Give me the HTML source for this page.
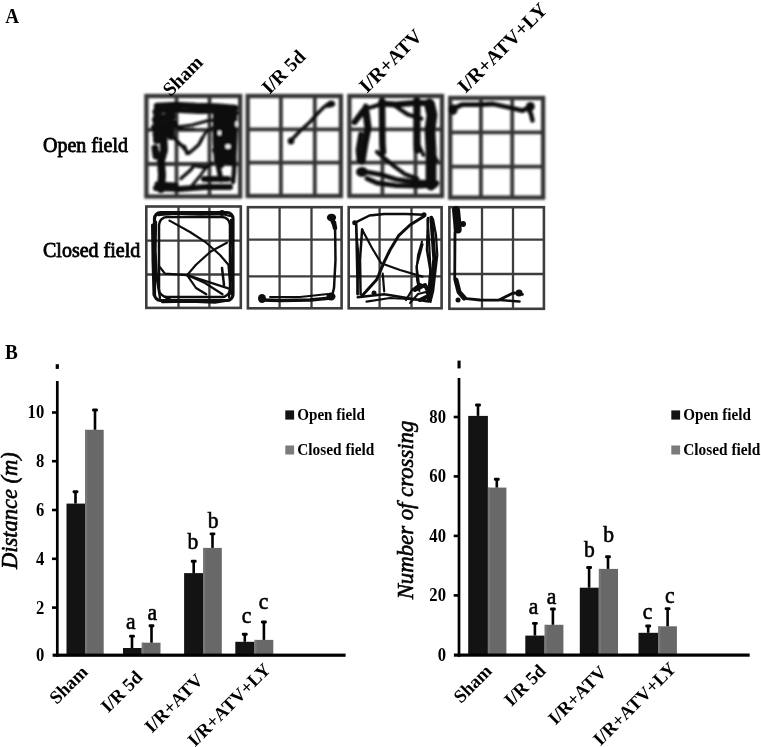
<!DOCTYPE html>
<html><head><meta charset="utf-8"><title>Figure</title>
<style>html,body{margin:0;padding:0;background:#fff;overflow:hidden;}svg{display:block;}</style>
</head><body>
<svg width="761" height="747" viewBox="0 0 761 747">
<rect width="761" height="747" fill="#fff"/>
<defs><filter id="b1" x="-5%" y="-5%" width="110%" height="110%"><feGaussianBlur stdDeviation="0.9"/></filter><filter id="b2" x="-5%" y="-5%" width="110%" height="110%"><feGaussianBlur stdDeviation="0.6"/></filter></defs>
<g filter="url(#b1)">
<rect x="146.4" y="96" width="93.8" height="100.5" fill="none" stroke="#363636" stroke-width="4.3"/>
<line x1="176.5" y1="96" x2="176.5" y2="196.5" stroke="#363636" stroke-width="3.8"/>
<line x1="209.5" y1="96" x2="209.5" y2="196.5" stroke="#363636" stroke-width="3.8"/>
<line x1="146.4" y1="129.8" x2="240.2" y2="129.8" stroke="#363636" stroke-width="3.8"/>
<line x1="146.4" y1="164" x2="240.2" y2="164" stroke="#363636" stroke-width="3.8"/>
<rect x="247.7" y="96" width="93.2" height="100.0" fill="none" stroke="#363636" stroke-width="4.3"/>
<line x1="280.9" y1="96" x2="280.9" y2="196" stroke="#363636" stroke-width="3.8"/>
<line x1="314.8" y1="96" x2="314.8" y2="196" stroke="#363636" stroke-width="3.8"/>
<line x1="247.7" y1="129.4" x2="340.9" y2="129.4" stroke="#363636" stroke-width="3.8"/>
<line x1="247.7" y1="162.6" x2="340.9" y2="162.6" stroke="#363636" stroke-width="3.8"/>
<rect x="349.4" y="96" width="92.6" height="100.0" fill="none" stroke="#363636" stroke-width="4.3"/>
<line x1="382.4" y1="96" x2="382.4" y2="196" stroke="#363636" stroke-width="3.8"/>
<line x1="415.5" y1="96" x2="415.5" y2="196" stroke="#363636" stroke-width="3.8"/>
<line x1="349.4" y1="129.4" x2="442" y2="129.4" stroke="#363636" stroke-width="3.8"/>
<line x1="349.4" y1="162.6" x2="442" y2="162.6" stroke="#363636" stroke-width="3.8"/>
<rect x="450.2" y="98" width="92.9" height="99.6" fill="none" stroke="#363636" stroke-width="4.3"/>
<line x1="480.9" y1="98" x2="480.9" y2="197.6" stroke="#363636" stroke-width="3.8"/>
<line x1="512.2" y1="98" x2="512.2" y2="197.6" stroke="#363636" stroke-width="3.8"/>
<line x1="450.2" y1="132.4" x2="543.1" y2="132.4" stroke="#363636" stroke-width="3.8"/>
<line x1="450.2" y1="166.6" x2="543.1" y2="166.6" stroke="#363636" stroke-width="3.8"/>
<path d="M157,106 L176,105 L196,106 L216,106.5 L235,108" fill="none" stroke="#0d0d0d" stroke-width="6.50" stroke-linecap="round" stroke-linejoin="round"/>
<path d="M162,110 L180,110.5 L200,111.5 L220,111 L236,113" fill="none" stroke="#0d0d0d" stroke-width="5.00" stroke-linecap="round" stroke-linejoin="round"/>
<path d="M156,112 L170,108" fill="none" stroke="#0d0d0d" stroke-width="7.00" stroke-linecap="round" stroke-linejoin="round"/>
<path d="M156,120 L172,116" fill="none" stroke="#0d0d0d" stroke-width="8.00" stroke-linecap="round" stroke-linejoin="round"/>
<path d="M155,128 L174,124" fill="none" stroke="#0d0d0d" stroke-width="8.00" stroke-linecap="round" stroke-linejoin="round"/>
<path d="M156,135 L170,132" fill="none" stroke="#0d0d0d" stroke-width="7.00" stroke-linecap="round" stroke-linejoin="round"/>
<path d="M157.5,110 L157,140" fill="none" stroke="#0d0d0d" stroke-width="8.00" stroke-linecap="round" stroke-linejoin="round"/>
<path d="M169,108 L171,136" fill="none" stroke="#0d0d0d" stroke-width="8.00" stroke-linecap="round" stroke-linejoin="round"/>
<path d="M163,130 L164,150 L161,161 L162,175 L161,189" fill="none" stroke="#0d0d0d" stroke-width="8.00" stroke-linecap="round" stroke-linejoin="round"/>
<path d="M155,148 L156,156" fill="none" stroke="#0d0d0d" stroke-width="7.00" stroke-linecap="round" stroke-linejoin="round"/>
<path d="M177,127 L192,125 L208.7,120.5 L222,119.4" fill="none" stroke="#0d0d0d" stroke-width="3.00" stroke-linecap="round" stroke-linejoin="round"/>
<path d="M177,129 L194,129" fill="none" stroke="#0d0d0d" stroke-width="2.50" stroke-linecap="round" stroke-linejoin="round"/>
<polygon points="213,112 237,111 237.5,135 236.5,160 234,166 214,163 212.5,140" fill="#0d0d0d"/>
<ellipse cx="228" cy="146.5" rx="2.6" ry="2.2" fill="#fff"/>
<ellipse cx="236.6" cy="124" rx="1.3" ry="2.8" fill="#fff"/>
<ellipse cx="219.5" cy="133" rx="1.6" ry="2.4" fill="#fff"/>
<path d="M217,160 L219,170 L221,180" fill="none" stroke="#0d0d0d" stroke-width="5.00" stroke-linecap="round" stroke-linejoin="round"/>
<path d="M234.5,160 L234,172 L233,182" fill="none" stroke="#0d0d0d" stroke-width="4.50" stroke-linecap="round" stroke-linejoin="round"/>
<path d="M214,150 L222,166" fill="none" stroke="#0d0d0d" stroke-width="4.00" stroke-linecap="round" stroke-linejoin="round"/>
<path d="M156,188 L180,189 L205,187 L230,187" fill="none" stroke="#0d0d0d" stroke-width="6.00" stroke-linecap="round" stroke-linejoin="round"/>
<path d="M204,179 L228,179" fill="none" stroke="#0d0d0d" stroke-width="6.00" stroke-linecap="round" stroke-linejoin="round"/>
<path d="M157,184 L176,185" fill="none" stroke="#0d0d0d" stroke-width="5.00" stroke-linecap="round" stroke-linejoin="round"/>
<path d="M181,178.5 L190.6,170 L194,165.5 L206,167.6 L212,163" fill="none" stroke="#0d0d0d" stroke-width="3.50" stroke-linecap="round" stroke-linejoin="round"/>
<path d="M192,185.5 L200,176 L206,167.6" fill="none" stroke="#0d0d0d" stroke-width="3.00" stroke-linecap="round" stroke-linejoin="round"/>
<path d="M170,134 L176,140 L182,146 L188.6,153.3 L194,149 L198.9,144.5 L202,138.6" fill="none" stroke="#0d0d0d" stroke-width="3.50" stroke-linecap="round" stroke-linejoin="round"/>
<path d="M178,143.5 L185,146.7 L186.7,153.6" fill="none" stroke="#0d0d0d" stroke-width="3.00" stroke-linecap="round" stroke-linejoin="round"/>
<path d="M202,138.6 L206,132 L212,128" fill="none" stroke="#0d0d0d" stroke-width="3.00" stroke-linecap="round" stroke-linejoin="round"/>
<path d="M290.5,141 L300,131 L310,122 L318,113 L324,107 L329,104" fill="none" stroke="#0d0d0d" stroke-width="3.60" stroke-linecap="round" stroke-linejoin="round"/>
<ellipse cx="291" cy="141" rx="3.3" ry="3.6" fill="#0d0d0d"/>
<polygon points="325,104 330,100.5 334,101 335.5,104.5 333,107 327,108" fill="#0d0d0d"/>
<path d="M354.7,122 L363.4,110.7 L366,107.5" fill="none" stroke="#0d0d0d" stroke-width="6.00" stroke-linecap="round" stroke-linejoin="round"/>
<ellipse cx="365.7" cy="107" rx="2.6" ry="3.4" fill="#0d0d0d"/>
<path d="M366,108.5 L372,107 L380,104.5" fill="none" stroke="#0d0d0d" stroke-width="4.20" stroke-linecap="round" stroke-linejoin="round"/>
<path d="M380.8,103.5 L396,104.5 L414.5,103 L426.8,103 L429.5,104.5" fill="none" stroke="#0d0d0d" stroke-width="6.00" stroke-linecap="round" stroke-linejoin="round"/>
<path d="M394,105 L400.8,109.7 L407.7,114.5 L414.5,116.6 L421.3,118.6" fill="none" stroke="#0d0d0d" stroke-width="4.20" stroke-linecap="round" stroke-linejoin="round"/>
<path d="M366,112 L368,127.5 L364.7,144 L362,161" fill="none" stroke="#0d0d0d" stroke-width="7.20" stroke-linecap="round" stroke-linejoin="round"/>
<path d="M360.7,134 L358,150 L359,161" fill="none" stroke="#0d0d0d" stroke-width="4.80" stroke-linecap="round" stroke-linejoin="round"/>
<ellipse cx="362" cy="172" rx="6" ry="5" fill="#0d0d0d"/>
<path d="M382,101 L382.4,144 L383,152" fill="none" stroke="#0d0d0d" stroke-width="6.60" stroke-linecap="round" stroke-linejoin="round"/>
<path d="M377,152 L383.3,157.5 L396,167.6 L405.6,174.6 L417.3,178.5" fill="none" stroke="#0d0d0d" stroke-width="4.20" stroke-linecap="round" stroke-linejoin="round"/>
<path d="M368.5,172.3 L381,174.6 L396,179.3 L415,182 L437,183" fill="none" stroke="#0d0d0d" stroke-width="4.80" stroke-linecap="round" stroke-linejoin="round"/>
<path d="M367,178.5 L377,183 L396,185.5 L420,186 L436,185" fill="none" stroke="#0d0d0d" stroke-width="4.80" stroke-linecap="round" stroke-linejoin="round"/>
<path d="M417,101 L417,144 L417.3,150" fill="none" stroke="#0d0d0d" stroke-width="7.20" stroke-linecap="round" stroke-linejoin="round"/>
<path d="M417.3,142 L423.5,155.2" fill="none" stroke="#0d0d0d" stroke-width="3.60" stroke-linecap="round" stroke-linejoin="round"/>
<path d="M429.5,104 L432,115 L430,130 L431,150 L431,170 L431,185" fill="none" stroke="#0d0d0d" stroke-width="10.80" stroke-linecap="round" stroke-linejoin="round"/>
<path d="M428,142 L437,161" fill="none" stroke="#0d0d0d" stroke-width="3.60" stroke-linecap="round" stroke-linejoin="round"/>
<path d="M452,109 L462,104.7 L479.8,104.7 L493,104 L509.2,107.5 L522.5,110.6 L530,107" fill="none" stroke="#0d0d0d" stroke-width="4.80" stroke-linecap="round" stroke-linejoin="round"/>
<path d="M528,108 L531,114 L532.5,120.5" fill="none" stroke="#0d0d0d" stroke-width="4.50" stroke-linecap="round" stroke-linejoin="round"/>
<ellipse cx="453" cy="109.5" rx="4.6" ry="5.2" fill="#0d0d0d"/>
<ellipse cx="530.4" cy="106.5" rx="4.4" ry="4.6" fill="#0d0d0d"/>
</g>
<g filter="url(#b2)">
<rect x="146.3" y="206.5" width="94.5" height="101.4" fill="none" stroke="#3c3c3c" stroke-width="2.6"/>
<line x1="178.5" y1="206.5" x2="178.5" y2="307.9" stroke="#3c3c3c" stroke-width="2.3"/>
<line x1="209.4" y1="206.5" x2="209.4" y2="307.9" stroke="#3c3c3c" stroke-width="2.3"/>
<line x1="146.3" y1="240.6" x2="240.8" y2="240.6" stroke="#3c3c3c" stroke-width="2.3"/>
<line x1="146.3" y1="274.5" x2="240.8" y2="274.5" stroke="#3c3c3c" stroke-width="2.3"/>
<rect x="247.9" y="207.2" width="93.7" height="101.1" fill="none" stroke="#3c3c3c" stroke-width="2.6"/>
<line x1="279.6" y1="207.2" x2="279.6" y2="308.3" stroke="#3c3c3c" stroke-width="2.3"/>
<line x1="311.5" y1="207.2" x2="311.5" y2="308.3" stroke="#3c3c3c" stroke-width="2.3"/>
<line x1="247.9" y1="239.6" x2="341.6" y2="239.6" stroke="#3c3c3c" stroke-width="2.3"/>
<line x1="247.9" y1="276.4" x2="341.6" y2="276.4" stroke="#3c3c3c" stroke-width="2.3"/>
<rect x="348.7" y="207.2" width="92.9" height="101.1" fill="none" stroke="#3c3c3c" stroke-width="2.6"/>
<line x1="379.6" y1="207.2" x2="379.6" y2="308.3" stroke="#3c3c3c" stroke-width="2.3"/>
<line x1="411.5" y1="207.2" x2="411.5" y2="308.3" stroke="#3c3c3c" stroke-width="2.3"/>
<line x1="348.7" y1="239.6" x2="441.6" y2="239.6" stroke="#3c3c3c" stroke-width="2.3"/>
<line x1="348.7" y1="276.4" x2="441.6" y2="276.4" stroke="#3c3c3c" stroke-width="2.3"/>
<rect x="449.4" y="207.2" width="94.5" height="101.6" fill="none" stroke="#3c3c3c" stroke-width="2.6"/>
<line x1="482.0" y1="207.2" x2="482.0" y2="308.8" stroke="#3c3c3c" stroke-width="2.3"/>
<line x1="513.0" y1="207.2" x2="513.0" y2="308.8" stroke="#3c3c3c" stroke-width="2.3"/>
<line x1="449.4" y1="239.6" x2="543.9" y2="239.6" stroke="#3c3c3c" stroke-width="2.3"/>
<line x1="449.4" y1="274.0" x2="543.9" y2="274.0" stroke="#3c3c3c" stroke-width="2.3"/>
<rect x="154.5" y="212.5" width="78.5" height="88.0" rx="6" fill="none" stroke="#0d0d0d" stroke-width="3.2"/>
<rect x="159" y="217" width="71" height="80" rx="8" fill="none" stroke="#0d0d0d" stroke-width="2.5"/>
<path d="M152.5,225 L153,260 L154,295" fill="none" stroke="#0d0d0d" stroke-width="3.00" stroke-linecap="round" stroke-linejoin="round"/>
<path d="M158,215 L175,213.5 L200,214.5 L222,214 L230,216" fill="none" stroke="#0d0d0d" stroke-width="2.30" stroke-linecap="round" stroke-linejoin="round"/>
<path d="M156,222 L155.5,250 L157,280 L160,298" fill="none" stroke="#0d0d0d" stroke-width="2.30" stroke-linecap="round" stroke-linejoin="round"/>
<path d="M231,220 L232.5,250 L231,280 L229,297" fill="none" stroke="#0d0d0d" stroke-width="2.30" stroke-linecap="round" stroke-linejoin="round"/>
<path d="M162,302 L190,301.5 L215,302.5 L230,300" fill="none" stroke="#0d0d0d" stroke-width="2.30" stroke-linecap="round" stroke-linejoin="round"/>
<path d="M169.5,220.6 L190,232 L206.3,242.7 L220,255 L228.4,264.8 L231.3,294.2" fill="none" stroke="#0d0d0d" stroke-width="2.20" stroke-linecap="round" stroke-linejoin="round"/>
<path d="M226.9,242.7 L210.7,251.5 L196,264.8 L187.1,275.1" fill="none" stroke="#0d0d0d" stroke-width="2.20" stroke-linecap="round" stroke-linejoin="round"/>
<path d="M159.1,266.3 L165,273.6 L187.1,275.1" fill="none" stroke="#0d0d0d" stroke-width="2.20" stroke-linecap="round" stroke-linejoin="round"/>
<path d="M187.1,275.1 L228.4,288.4" fill="none" stroke="#0d0d0d" stroke-width="2.20" stroke-linecap="round" stroke-linejoin="round"/>
<path d="M187.1,275.1 L205,283 L222.5,294.2" fill="none" stroke="#0d0d0d" stroke-width="2.20" stroke-linecap="round" stroke-linejoin="round"/>
<path d="M187.1,275.1 L196,288 L206.3,294.2" fill="none" stroke="#0d0d0d" stroke-width="2.20" stroke-linecap="round" stroke-linejoin="round"/>
<path d="M222,268 L224,285" fill="none" stroke="#0d0d0d" stroke-width="2.50" stroke-linecap="round" stroke-linejoin="round"/>
<ellipse cx="222" cy="213" rx="3" ry="3" fill="#0d0d0d"/>
<ellipse cx="168" cy="300" rx="3" ry="3" fill="#0d0d0d"/>
<ellipse cx="331.5" cy="217.5" rx="4.6" ry="3.8" fill="#0d0d0d"/>
<path d="M331,217 L334,224 L335,228" fill="none" stroke="#0d0d0d" stroke-width="4.50" stroke-linecap="round" stroke-linejoin="round"/>
<path d="M335,222 L335.5,260 L334,288 L332,296" fill="none" stroke="#0d0d0d" stroke-width="2.50" stroke-linecap="round" stroke-linejoin="round"/>
<ellipse cx="331" cy="296.5" rx="4.5" ry="4" fill="#0d0d0d"/>
<path d="M331,298 L310,300 L280,300.5 L262,300" fill="none" stroke="#0d0d0d" stroke-width="3.50" stroke-linecap="round" stroke-linejoin="round"/>
<path d="M328,294 L300,297 L270,297" fill="none" stroke="#0d0d0d" stroke-width="2.00" stroke-linecap="round" stroke-linejoin="round"/>
<ellipse cx="262" cy="298.5" rx="4" ry="4.5" fill="#0d0d0d"/>
<path d="M354.7,222.8 L369.5,215.5 L384.2,214 L406.3,214 L424,214.7" fill="none" stroke="#0d0d0d" stroke-width="2.50" stroke-linecap="round" stroke-linejoin="round"/>
<path d="M424,216.2 L410,225 L398.9,235.3 L390,250 L384.2,261.9 L376.8,279.5 L362.1,295.7" fill="none" stroke="#0d0d0d" stroke-width="3.00" stroke-linecap="round" stroke-linejoin="round"/>
<path d="M356.2,223.6 L357,260 L357.7,294.3" fill="none" stroke="#0d0d0d" stroke-width="2.50" stroke-linecap="round" stroke-linejoin="round"/>
<path d="M362.1,229.5 L360,260 L360.6,294.3" fill="none" stroke="#0d0d0d" stroke-width="2.50" stroke-linecap="round" stroke-linejoin="round"/>
<path d="M362.1,229.5 L372,248 L381.2,263.3 L400,270 L422.5,276.6" fill="none" stroke="#0d0d0d" stroke-width="2.20" stroke-linecap="round" stroke-linejoin="round"/>
<path d="M431.3,217.7 L434.3,258.9 L429.8,300.1" fill="none" stroke="#0d0d0d" stroke-width="4.00" stroke-linecap="round" stroke-linejoin="round"/>
<path d="M428,218 L427,250 L432,280 L428,298" fill="none" stroke="#0d0d0d" stroke-width="2.50" stroke-linecap="round" stroke-linejoin="round"/>
<path d="M422.5,244.2 L416.6,266.3 L419.5,288.4" fill="none" stroke="#0d0d0d" stroke-width="2.20" stroke-linecap="round" stroke-linejoin="round"/>
<path d="M357.7,297.2 L384.2,294.3 L428.4,301.6" fill="none" stroke="#0d0d0d" stroke-width="2.50" stroke-linecap="round" stroke-linejoin="round"/>
<path d="M366.5,301.6 L390,298 L425,300" fill="none" stroke="#0d0d0d" stroke-width="2.20" stroke-linecap="round" stroke-linejoin="round"/>
<path d="M382.7,273.6 L384.2,291.3" fill="none" stroke="#0d0d0d" stroke-width="2.20" stroke-linecap="round" stroke-linejoin="round"/>
<path d="M415,290 L425,285 L430,295 L420,300" fill="none" stroke="#0d0d0d" stroke-width="4.00" stroke-linecap="round" stroke-linejoin="round"/>
<path d="M433,219 L436,235 L437.3,255 L435,275 L433.2,291 L430.4,302" fill="none" stroke="#0d0d0d" stroke-width="2.20" stroke-linecap="round" stroke-linejoin="round"/>
<path d="M427.6,219.3 L429,240 L430.4,269 L429,285 L427.6,299.3" fill="none" stroke="#0d0d0d" stroke-width="2.20" stroke-linecap="round" stroke-linejoin="round"/>
<path d="M422,241.4 L418,255 L416.6,269 L417,280 L419.4,291" fill="none" stroke="#0d0d0d" stroke-width="2.00" stroke-linecap="round" stroke-linejoin="round"/>
<path d="M406,300 L412,290 L420,284 L428,288 L432,296" fill="none" stroke="#0d0d0d" stroke-width="2.20" stroke-linecap="round" stroke-linejoin="round"/>
<path d="M410,303 L418,294 L426,292 L431,300" fill="none" stroke="#0d0d0d" stroke-width="2.00" stroke-linecap="round" stroke-linejoin="round"/>
<path d="M355.9,222 L357,240 L358.7,255.2 L358,275 L357.3,293.8" fill="none" stroke="#0d0d0d" stroke-width="2.00" stroke-linecap="round" stroke-linejoin="round"/>
<ellipse cx="354.7" cy="222.8" rx="2.5" ry="2.5" fill="#0d0d0d"/>
<ellipse cx="424" cy="214.7" rx="2.5" ry="2.5" fill="#0d0d0d"/>
<ellipse cx="374" cy="293" rx="2.5" ry="2.5" fill="#0d0d0d"/>
<path d="M456,210 L457,220 L457.7,229.5" fill="none" stroke="#0d0d0d" stroke-width="8.00" stroke-linecap="round" stroke-linejoin="round"/>
<ellipse cx="463" cy="224" rx="3" ry="3" fill="#0d0d0d"/>
<path d="M455,232 L454.7,278 L459,291.3 L466.5,298.7 L480,300 L498.9,300.1 L513.6,292.8 L522.5,294.3" fill="none" stroke="#0d0d0d" stroke-width="2.80" stroke-linecap="round" stroke-linejoin="round"/>
<path d="M456,280 L459,292 L464,298" fill="none" stroke="#0d0d0d" stroke-width="5.00" stroke-linecap="round" stroke-linejoin="round"/>
<path d="M500,300 L519.5,301.6" fill="none" stroke="#0d0d0d" stroke-width="2.50" stroke-linecap="round" stroke-linejoin="round"/>
<ellipse cx="519" cy="293" rx="3.5" ry="3.5" fill="#0d0d0d"/>
<ellipse cx="458" cy="300" rx="2.5" ry="2.5" fill="#0d0d0d"/>
</g>
<text transform="translate(5.2 22.5) scale(0.95 1)" font-family="Liberation Serif, 'Times New Roman', serif" font-size="20.2" font-weight="bold">A</text>
<text transform="translate(5.0 358.5) scale(0.95 1)" font-family="Liberation Serif, 'Times New Roman', serif" font-size="20.2" font-weight="bold">B</text>
<text x="43.0" y="151.6" font-family="Liberation Serif, 'Times New Roman', serif" font-size="20.0" stroke="#000" stroke-width="0.8">Open field</text>
<text x="43.0" y="257.2" font-family="Liberation Serif, 'Times New Roman', serif" font-size="20.0" stroke="#000" stroke-width="0.8">Closed field</text>
<text x="170.4" y="97.3" transform="rotate(-45 170.4 97.3)" font-family="Liberation Serif, 'Times New Roman', serif" font-size="19.5" font-weight="bold">Sham</text>
<text x="269.4" y="95.1" transform="rotate(-45 269.4 95.1)" font-family="Liberation Serif, 'Times New Roman', serif" font-size="19.5" font-weight="bold">I/R 5d</text>
<text x="367.0" y="93.7" transform="rotate(-45 367.0 93.7)" font-family="Liberation Serif, 'Times New Roman', serif" font-size="20" font-weight="bold">I/R+ATV</text>
<text x="465.5" y="94.0" transform="rotate(-45 465.5 94.0)" font-family="Liberation Serif, 'Times New Roman', serif" font-size="20" font-weight="bold">I/R+ATV+LY</text>
<rect x="55.7" y="364.2" width="3.2" height="4.7" fill="#000"/>
<rect x="66.5" y="503.6" width="18.6" height="151.6" fill="#131313"/>
<rect x="74.2" y="491.3" width="2.6" height="12.3" fill="#000"/>
<rect x="72.6" y="490.3" width="5.8" height="2.9" rx="1.2" fill="#000"/>
<rect x="85.1" y="429.8" width="18.6" height="225.4" fill="#686868"/>
<rect x="85.4" y="429.8" width="1.8" height="225.4" fill="#777"/>
<rect x="93.7" y="409.5" width="2.6" height="20.3" fill="#000"/>
<rect x="92.1" y="408.5" width="5.8" height="2.9" rx="1.2" fill="#000"/>
<rect x="123" y="648" width="18.7" height="7.2" fill="#131313"/>
<rect x="130.7" y="635.7" width="2.6" height="12.3" fill="#000"/>
<rect x="129.1" y="634.7" width="5.8" height="2.9" rx="1.2" fill="#000"/>
<rect x="141.7" y="642.7" width="18.8" height="12.5" fill="#686868"/>
<rect x="142.0" y="642.7" width="1.8" height="12.5" fill="#777"/>
<rect x="150.2" y="625.3" width="2.6" height="17.4" fill="#000"/>
<rect x="148.6" y="624.3" width="5.8" height="2.9" rx="1.2" fill="#000"/>
<rect x="184.1" y="573.1" width="19.0" height="82.1" fill="#131313"/>
<rect x="192.4" y="560.8" width="2.6" height="12.3" fill="#000"/>
<rect x="190.8" y="559.8" width="5.8" height="2.9" rx="1.2" fill="#000"/>
<rect x="203.1" y="547.9" width="18.7" height="107.3" fill="#686868"/>
<rect x="203.4" y="547.9" width="1.8" height="107.3" fill="#777"/>
<rect x="211.2" y="533.4" width="2.6" height="14.5" fill="#000"/>
<rect x="209.6" y="532.4" width="5.8" height="2.9" rx="1.2" fill="#000"/>
<rect x="235.3" y="641.8" width="19.2" height="13.4" fill="#131313"/>
<rect x="243.5" y="633.8" width="2.6" height="8.0" fill="#000"/>
<rect x="241.9" y="632.8" width="5.8" height="2.9" rx="1.2" fill="#000"/>
<rect x="254.5" y="639.9" width="18.8" height="15.3" fill="#686868"/>
<rect x="254.8" y="639.9" width="1.8" height="15.3" fill="#777"/>
<rect x="262.6" y="621.5" width="2.6" height="18.4" fill="#000"/>
<rect x="261.0" y="620.5" width="5.8" height="2.9" rx="1.2" fill="#000"/>
<rect x="55.95" y="381" width="2.7" height="275.8" fill="#000"/>
<rect x="52.6" y="653.6" width="293.0" height="3.2" fill="#000"/>
<rect x="52.0" y="411.2" width="5" height="2.6" fill="#000"/>
<text transform="translate(44.2 418.4) scale(0.9 1)" font-family="Liberation Serif, 'Times New Roman', serif" font-size="18.5" font-weight="bold" text-anchor="end">10</text>
<rect x="52.0" y="459.9" width="5" height="2.6" fill="#000"/>
<text transform="translate(44.2 467.1) scale(0.9 1)" font-family="Liberation Serif, 'Times New Roman', serif" font-size="18.5" font-weight="bold" text-anchor="end">8</text>
<rect x="52.0" y="508.7" width="5" height="2.6" fill="#000"/>
<text transform="translate(44.2 515.9) scale(0.9 1)" font-family="Liberation Serif, 'Times New Roman', serif" font-size="18.5" font-weight="bold" text-anchor="end">6</text>
<rect x="52.0" y="557.5" width="5" height="2.6" fill="#000"/>
<text transform="translate(44.2 564.7) scale(0.9 1)" font-family="Liberation Serif, 'Times New Roman', serif" font-size="18.5" font-weight="bold" text-anchor="end">4</text>
<rect x="52.0" y="606.3" width="5" height="2.6" fill="#000"/>
<text transform="translate(44.2 613.5) scale(0.9 1)" font-family="Liberation Serif, 'Times New Roman', serif" font-size="18.5" font-weight="bold" text-anchor="end">2</text>
<text transform="translate(126.0 629.1) scale(0.94 1)" font-family="Liberation Serif, 'Times New Roman', serif" font-size="23.0" stroke="#000" stroke-width="0.6">a</text>
<text transform="translate(147.6 620.3) scale(0.94 1)" font-family="Liberation Serif, 'Times New Roman', serif" font-size="23.0" stroke="#000" stroke-width="0.6">a</text>
<text transform="translate(187.6 549.1) scale(0.94 1)" font-family="Liberation Serif, 'Times New Roman', serif" font-size="23.0" stroke="#000" stroke-width="0.6">b</text>
<text transform="translate(207.8 527.8) scale(0.94 1)" font-family="Liberation Serif, 'Times New Roman', serif" font-size="23.0" stroke="#000" stroke-width="0.6">b</text>
<text transform="translate(241.8 623.3) scale(0.94 1)" font-family="Liberation Serif, 'Times New Roman', serif" font-size="23.0" stroke="#000" stroke-width="0.6">c</text>
<text transform="translate(258.8 608.8) scale(0.94 1)" font-family="Liberation Serif, 'Times New Roman', serif" font-size="23.0" stroke="#000" stroke-width="0.6">c</text>
<rect x="285.3" y="410.4" width="8.8" height="9.2" fill="#131313"/>
<rect x="285.3" y="445.5" width="8.8" height="9" fill="#7b7b7b"/>
<text transform="translate(297.2 420.2) scale(0.935 1)" font-family="Liberation Serif, 'Times New Roman', serif" font-size="16.2" font-weight="bold">Open field</text>
<text transform="translate(297.2 454.6) scale(0.96 1)" font-family="Liberation Serif, 'Times New Roman', serif" font-size="16.0" font-weight="bold">Closed field</text>
<text x="56.8" y="705.1" transform="rotate(-45 56.8 705.1)" font-family="Liberation Serif, 'Times New Roman', serif" font-size="18.5" font-weight="bold">Sham</text>
<text x="108.2" y="713.6" transform="rotate(-45 108.2 713.6)" font-family="Liberation Serif, 'Times New Roman', serif" font-size="18.5" font-weight="bold">I/R 5d</text>
<text x="152.0" y="733.7" transform="rotate(-45 152.0 733.7)" font-family="Liberation Serif, 'Times New Roman', serif" font-size="18.5" font-weight="bold">I/R+ATV</text>
<text x="194.9" y="747.6" transform="rotate(-45 194.9 747.6)" font-family="Liberation Serif, 'Times New Roman', serif" font-size="18.5" font-weight="bold">I/R+ATV+LY</text>
<text x="16.7" y="569.1" transform="rotate(-90 16.7 569.1)" font-family="Liberation Serif, 'Times New Roman', serif" font-size="22.5" font-style="italic" stroke="#000" stroke-width="0.6">Distance (m)</text>
<text transform="translate(44.2 661.1) scale(0.9 1)" font-family="Liberation Serif, 'Times New Roman', serif" font-size="18.5" font-weight="bold" text-anchor="end">0</text>
<rect x="457.5" y="360.6" width="3.1" height="7.8" fill="#000"/>
<rect x="468.2" y="415.9" width="19.7" height="239.2" fill="#131313"/>
<rect x="476.7" y="404.5" width="2.6" height="11.4" fill="#000"/>
<rect x="475.1" y="403.5" width="5.8" height="2.9" rx="1.2" fill="#000"/>
<rect x="487.9" y="487.6" width="18.5" height="167.5" fill="#686868"/>
<rect x="488.2" y="487.6" width="1.8" height="167.5" fill="#777"/>
<rect x="495.5" y="478.8" width="2.6" height="8.8" fill="#000"/>
<rect x="493.9" y="477.8" width="5.8" height="2.9" rx="1.2" fill="#000"/>
<rect x="525.3" y="635.6" width="19.3" height="19.5" fill="#131313"/>
<rect x="533.6" y="622.9" width="2.6" height="12.7" fill="#000"/>
<rect x="532.0" y="621.9" width="5.8" height="2.9" rx="1.2" fill="#000"/>
<rect x="544.6" y="624.8" width="18.8" height="30.3" fill="#686868"/>
<rect x="544.9" y="624.8" width="1.8" height="30.3" fill="#777"/>
<rect x="551.6" y="608.5" width="2.6" height="16.3" fill="#000"/>
<rect x="550.0" y="607.5" width="5.8" height="2.9" rx="1.2" fill="#000"/>
<rect x="579.8" y="587.7" width="19.0" height="67.4" fill="#131313"/>
<rect x="587.8" y="567" width="2.6" height="20.7" fill="#000"/>
<rect x="586.2" y="566" width="5.8" height="2.9" rx="1.2" fill="#000"/>
<rect x="598.8" y="568.9" width="19.2" height="86.2" fill="#686868"/>
<rect x="599.1" y="568.9" width="1.8" height="86.2" fill="#777"/>
<rect x="606.7" y="556.3" width="2.6" height="12.6" fill="#000"/>
<rect x="605.1" y="555.3" width="5.8" height="2.9" rx="1.2" fill="#000"/>
<rect x="638.5" y="632.8" width="19.7" height="22.3" fill="#131313"/>
<rect x="646.9" y="625.5" width="2.6" height="7.3" fill="#000"/>
<rect x="645.3" y="624.5" width="5.8" height="2.9" rx="1.2" fill="#000"/>
<rect x="658.2" y="626.3" width="18.7" height="28.8" fill="#686868"/>
<rect x="658.5" y="626.3" width="1.8" height="28.8" fill="#777"/>
<rect x="666.3" y="608.2" width="2.6" height="18.1" fill="#000"/>
<rect x="664.7" y="607.2" width="5.8" height="2.9" rx="1.2" fill="#000"/>
<rect x="457.65" y="378" width="2.7" height="278.8" fill="#000"/>
<rect x="453.9" y="653.5" width="295.8" height="3.2" fill="#000"/>
<rect x="453.7" y="415.7" width="5" height="2.6" fill="#000"/>
<text transform="translate(446.0 422.9) scale(0.9 1)" font-family="Liberation Serif, 'Times New Roman', serif" font-size="18.5" font-weight="bold" text-anchor="end">80</text>
<rect x="453.7" y="475.1" width="5" height="2.6" fill="#000"/>
<text transform="translate(446.0 482.3) scale(0.9 1)" font-family="Liberation Serif, 'Times New Roman', serif" font-size="18.5" font-weight="bold" text-anchor="end">60</text>
<rect x="453.7" y="534.6" width="5" height="2.6" fill="#000"/>
<text transform="translate(446.0 541.8) scale(0.9 1)" font-family="Liberation Serif, 'Times New Roman', serif" font-size="18.5" font-weight="bold" text-anchor="end">40</text>
<rect x="453.7" y="594.1" width="5" height="2.6" fill="#000"/>
<text transform="translate(446.0 601.3) scale(0.9 1)" font-family="Liberation Serif, 'Times New Roman', serif" font-size="18.5" font-weight="bold" text-anchor="end">20</text>
<text transform="translate(528.8 614.4) scale(0.94 1)" font-family="Liberation Serif, 'Times New Roman', serif" font-size="23.0" stroke="#000" stroke-width="0.6">a</text>
<text transform="translate(546.8 603.6) scale(0.94 1)" font-family="Liberation Serif, 'Times New Roman', serif" font-size="23.0" stroke="#000" stroke-width="0.6">a</text>
<text transform="translate(584.0 556.8) scale(0.94 1)" font-family="Liberation Serif, 'Times New Roman', serif" font-size="23.0" stroke="#000" stroke-width="0.6">b</text>
<text transform="translate(603.3 542.0) scale(0.94 1)" font-family="Liberation Serif, 'Times New Roman', serif" font-size="23.0" stroke="#000" stroke-width="0.6">b</text>
<text transform="translate(642.8 619.1) scale(0.94 1)" font-family="Liberation Serif, 'Times New Roman', serif" font-size="23.0" stroke="#000" stroke-width="0.6">c</text>
<text transform="translate(665.0 603.4) scale(0.94 1)" font-family="Liberation Serif, 'Times New Roman', serif" font-size="23.0" stroke="#000" stroke-width="0.6">c</text>
<rect x="671.3" y="410.4" width="8.8" height="9.2" fill="#131313"/>
<rect x="671.3" y="445.5" width="8.8" height="9" fill="#7b7b7b"/>
<text transform="translate(683.2 420.2) scale(0.935 1)" font-family="Liberation Serif, 'Times New Roman', serif" font-size="16.2" font-weight="bold">Open field</text>
<text transform="translate(683.2 454.6) scale(0.96 1)" font-family="Liberation Serif, 'Times New Roman', serif" font-size="16.0" font-weight="bold">Closed field</text>
<text x="461.0" y="704.1" transform="rotate(-45 461.0 704.1)" font-family="Liberation Serif, 'Times New Roman', serif" font-size="18.5" font-weight="bold">Sham</text>
<text x="511.5" y="707.3" transform="rotate(-45 511.5 707.3)" font-family="Liberation Serif, 'Times New Roman', serif" font-size="18.5" font-weight="bold">I/R 5d</text>
<text x="555.5" y="725.7" transform="rotate(-45 555.5 725.7)" font-family="Liberation Serif, 'Times New Roman', serif" font-size="18.5" font-weight="bold">I/R+ATV</text>
<text x="600.5" y="746.4" transform="rotate(-45 600.5 746.4)" font-family="Liberation Serif, 'Times New Roman', serif" font-size="18.5" font-weight="bold">I/R+ATV+LY</text>
<text x="412.9" y="599.3" transform="rotate(-90 412.9 599.3)" font-family="Liberation Serif, 'Times New Roman', serif" font-size="22.75" font-style="italic" stroke="#000" stroke-width="0.6">Number of crossing</text>
<text transform="translate(446.0 661.0) scale(0.9 1)" font-family="Liberation Serif, 'Times New Roman', serif" font-size="18.5" font-weight="bold" text-anchor="end">0</text>
</svg>
</body></html>
